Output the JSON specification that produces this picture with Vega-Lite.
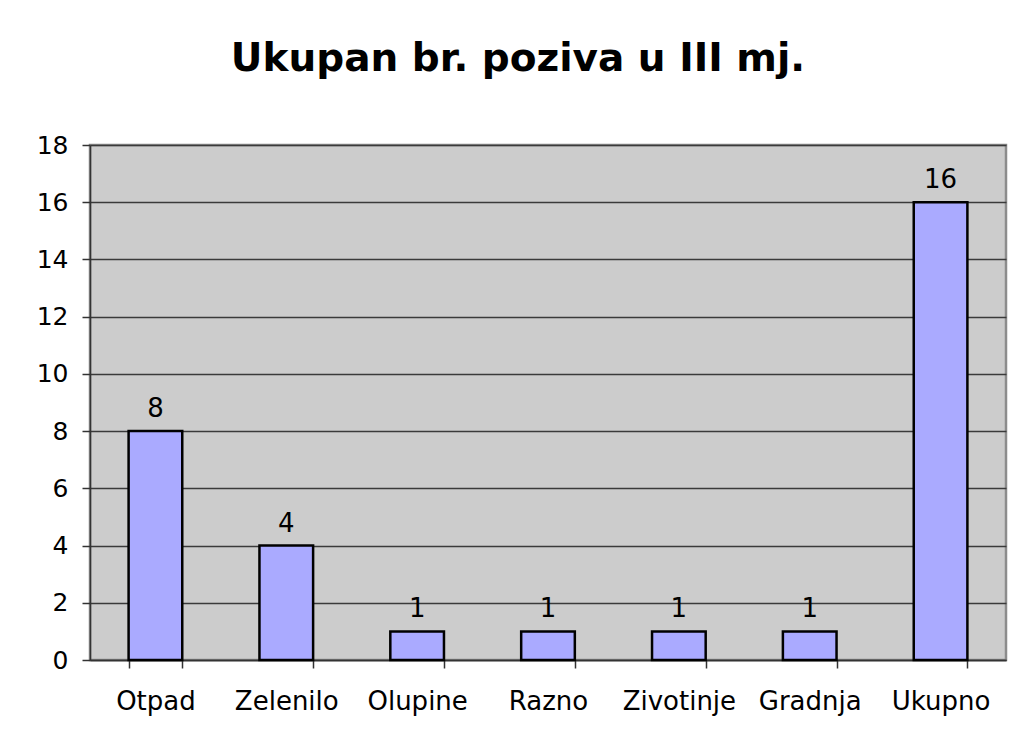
{
  "$schema": "https://vega.github.io/schema/vega-lite/v6.json",
  "autosize": {"type": "none"},
  "width": 916,
  "height": 515,
  "padding": {"left": 90, "top": 145, "right": 7, "bottom": 78},
  "background": "white",
  "title": {
    "text": "Ukupan br. poziva u III mj.",
    "font": "DejaVu Sans",
    "fontSize": 39,
    "fontWeight": "bold",
    "color": "black",
    "anchor": "middle",
    "baseline": "alphabetic",
    "offset": 23,
    "dx": -30
  },
  "data": {
    "values": [
      {"kategorija": "Otpad", "broj": 8},
      {"kategorija": "Zelenilo", "broj": 4},
      {"kategorija": "Olupine", "broj": 1},
      {"kategorija": "Razno", "broj": 1},
      {"kategorija": "Zivotinje", "broj": 1},
      {"kategorija": "Gradnja", "broj": 1},
      {"kategorija": "Ukupno", "broj": 16}
    ]
  },
  "encoding": {
    "x": {
      "field": "kategorija",
      "type": "nominal",
      "sort": null,
      "title": null,
      "scale": {"paddingInner": 0.59, "paddingOuter": 0.295},
      "axis": {
        "labelAngle": 0,
        "tickBand": "extent",
        "tickSize": 8,
        "tickColor": "#333333",
        "tickWidth": 1.5,
        "domainColor": "#333333",
        "domainWidth": 1.5,
        "labelFont": "DejaVu Sans",
        "labelFontSize": 26,
        "labelColor": "black",
        "labelPadding": 20,
        "grid": false
      }
    },
    "y": {
      "field": "broj",
      "type": "quantitative",
      "title": null,
      "scale": {"domain": [0, 18], "nice": false},
      "axis": {
        "values": [0, 2, 4, 6, 8, 10, 12, 14, 16, 18],
        "tickSize": 8,
        "tickColor": "#333333",
        "tickWidth": 1.5,
        "domainColor": "#333333",
        "domainWidth": 1.5,
        "labelFont": "DejaVu Sans",
        "labelFontSize": 25,
        "labelColor": "black",
        "labelPadding": 14,
        "grid": true,
        "gridColor": "#3a3a3a",
        "gridWidth": 1.5
      }
    }
  },
  "layer": [
    {
      "mark": {"type": "bar", "color": "#AAAAFF", "stroke": "black", "strokeWidth": 2.5}
    },
    {
      "mark": {"type": "text", "baseline": "bottom", "dy": -9, "font": "DejaVu Sans", "fontSize": 26, "color": "black"},
      "encoding": {"text": {"field": "broj", "type": "quantitative"}}
    }
  ],
  "config": {
    "view": {"fill": "#CCCCCC", "stroke": "#8C8C8C", "strokeWidth": 2.5}
  }
}
